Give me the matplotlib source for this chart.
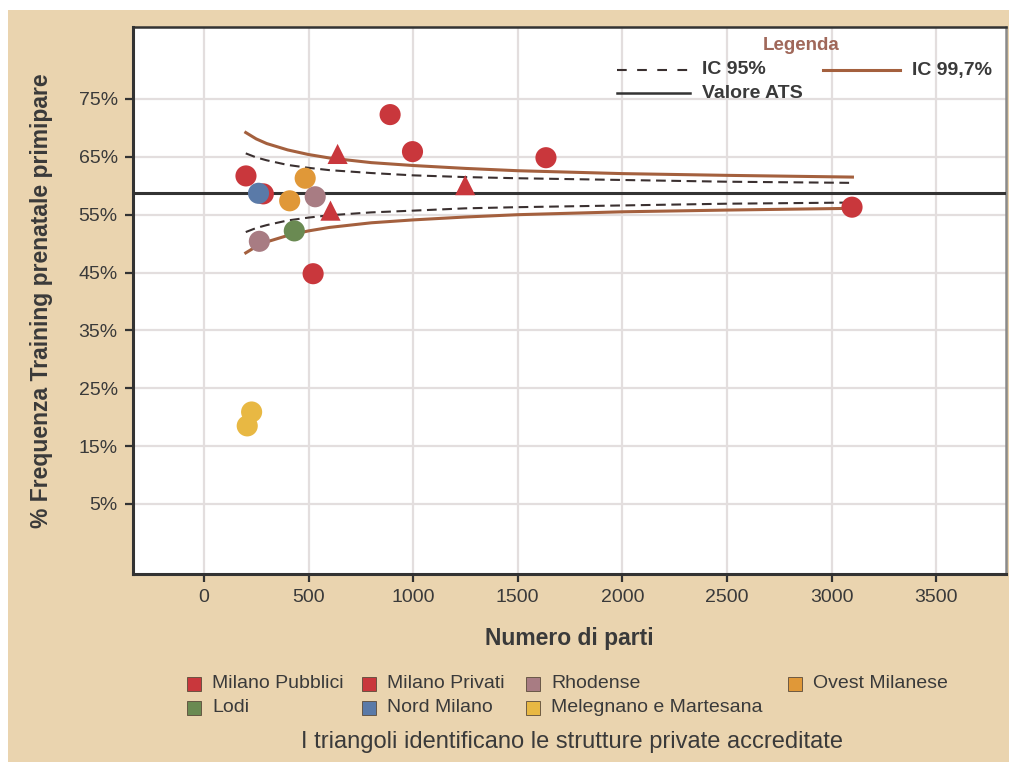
import matplotlib
matplotlib.use("Agg")
import matplotlib.pyplot as plt
from matplotlib.lines import Line2D
from matplotlib.patches import Rectangle

plt.rcParams["font.family"] = ["Liberation Sans", "DejaVu Sans"]
plt.rcParams["lines.scale_dashes"] = False

# ---- data -------------------------------------------------------------
# structures: number of births and % prenatal training (primiparae)
milano_pubblici_n = [201, 284, 522, 890, 997, 1635, 3098]
milano_pubblici_pct = [61.7, 58.6, 44.8, 72.3, 65.9, 64.85, 56.3]

milano_privati_n = [639, 1249, 605]
milano_privati_pct = [65.5, 60.1, 55.7]

rhodense_n = [265, 532]
rhodense_pct = [50.4, 58.1]

ovest_n = [484, 410]
ovest_pct = [61.3, 57.4]

lodi_n = [432]
lodi_pct = [52.2]

nord_n = [261]
nord_pct = [58.7]

melegnano_n = [228, 207]
melegnano_pct = [20.9, 18.5]

# ATS reference value
ats_value = 58.8

# funnel limits
curve_n = [200, 250, 300, 400, 500, 600, 800, 1000, 1250, 1500, 2000, 2500, 3100]
upper_997 = [69.2, 68.1, 67.3, 66.2, 65.4, 64.8, 64.0, 63.5, 63.0, 62.6, 62.1, 61.8, 61.5]
lower_997 = [48.4, 49.5, 50.3, 51.4, 52.2, 52.8, 53.6, 54.1, 54.6, 55.0, 55.5, 55.8, 56.1]
upper_95 = [65.6, 64.9, 64.4, 63.6, 63.1, 62.7, 62.2, 61.8, 61.5, 61.3, 61.0, 60.7, 60.5]
lower_95 = [52.0, 52.7, 53.2, 54.0, 54.5, 54.9, 55.4, 55.7, 56.1, 56.3, 56.6, 56.9, 57.1]

x_ticks = [0, 500, 1000, 1500, 2000, 2500, 3000, 3500]
y_ticks = [5, 15, 25, 35, 45, 55, 65, 75]

area_names = ["Milano Pubblici", "Milano Privati", "Rhodense", "Ovest Milanese",
              "Lodi", "Nord Milano", "Melegnano e Martesana"]

# ---- style ------------------------------------------------------------
RED = "#C9373C"
MAUVE = "#A87C83"
ORANGE = "#E09838"
GREEN = "#6A8A52"
BLUE = "#5A7AA8"
YELLOW = "#E8B843"
BROWN = "#A4603E"
DARK = "#333333"
TEXT = "#3A3A3A"
PANEL = "#EAD4AF"
GRID = "#E3DEDE"

area_colors = [RED, RED, MAUVE, ORANGE, GREEN, BLUE, YELLOW]

W, H = 1009, 762
fig = plt.figure(figsize=(W / 100, H / 100), dpi=100, facecolor="white")


def fx(px):
    return px / W


def fy(py):
    return 1 - py / H


fig.add_artist(Rectangle((fx(8), 0), 1 - fx(8), fy(10), transform=fig.transFigure,
                         facecolor=PANEL, edgecolor="none", zorder=-10))

ax = fig.add_axes([fx(133), fy(574), fx(1006) - fx(133), fy(27) - fy(574)])
ax.set_facecolor("white")
ax.set_xlim(-339, 3834)
ax.set_ylim(-7.1, 87.44)

ax.set_xticks(x_ticks)
ax.set_yticks(y_ticks)
ax.set_yticklabels([f"{v}%" for v in y_ticks])
ax.grid(True, color=GRID, lw=1.6, zorder=0)
ax.set_axisbelow(True)
ax.tick_params(axis="both", length=6, width=1.6, color=DARK, labelsize=14,
               labelcolor=TEXT, pad=5)

for side in ["left", "bottom", "top"]:
    ax.spines[side].set_color(DARK)
    ax.spines[side].set_linewidth(2.2)
ax.spines["top"].set_linewidth(1.8)
ax.spines["right"].set_color("#8A8A8A")
ax.spines["right"].set_linewidth(1.8)

ax.set_xlabel("Numero di parti", fontsize=16.5, fontweight="bold", color=TEXT, labelpad=15)
ax.set_ylabel("% Frequenza Training prenatale primipare", fontsize=16.5,
              fontweight="bold", color=TEXT, labelpad=18)

# funnel limits and reference line
ax.plot(curve_n, upper_997, color=BROWN, lw=2.2, zorder=3)
ax.plot(curve_n, lower_997, color=BROWN, lw=2.2, zorder=3)
ax.plot(curve_n, upper_95, color="#3A3030", lw=1.5, dashes=(7, 4), zorder=3)
ax.plot(curve_n, lower_95, color="#3A3030", lw=1.5, dashes=(7, 4), zorder=3)
ax.axhline(ats_value, color=DARK, lw=2.2, zorder=3)

# structures
CIRCLE = 15.2 ** 2
TRI = 14.5 ** 2
ax.scatter(milano_pubblici_n, milano_pubblici_pct, s=CIRCLE, color=RED, marker="o",
           edgecolors="none", zorder=4)
ax.scatter(milano_privati_n, milano_privati_pct, s=TRI, color=RED, marker="^",
           edgecolors="none", zorder=4)
ax.scatter(rhodense_n, rhodense_pct, s=CIRCLE, color=MAUVE, edgecolors="none", zorder=5)
ax.scatter(ovest_n, ovest_pct, s=CIRCLE, color=ORANGE, edgecolors="none", zorder=5)
ax.scatter(lodi_n, lodi_pct, s=CIRCLE, color=GREEN, edgecolors="none", zorder=5)
ax.scatter(nord_n, nord_pct, s=CIRCLE, color=BLUE, edgecolors="none", zorder=5)
ax.scatter(melegnano_n, melegnano_pct, s=CIRCLE, color=YELLOW, edgecolors="none", zorder=5)

# top-right legend
fig.text(fx(801), fy(46), "Legenda", color="#A0685A", fontsize=13.5, fontweight="bold",
         ha="center", va="center")
fig.add_artist(Line2D([fx(617), fx(690)], [fy(70), fy(70)], color="#3A3030", lw=1.5,
                      dashes=(7, 7.5), transform=fig.transFigure))
fig.text(fx(702), fy(70), "IC 95%", color=TEXT, fontsize=14, fontweight="bold",
         ha="left", va="center")
fig.add_artist(Line2D([fx(823), fx(900)], [fy(70), fy(70)], color=BROWN, lw=2.2,
                      transform=fig.transFigure))
fig.text(fx(912), fy(70), "IC 99,7%", color=TEXT, fontsize=14, fontweight="bold",
         ha="left", va="center")
fig.add_artist(Line2D([fx(617), fx(690)], [fy(93), fy(93)], color=DARK, lw=1.8,
                      transform=fig.transFigure))
fig.text(fx(702), fy(93), "Valore ATS", color=TEXT, fontsize=14, fontweight="bold",
         ha="left", va="center")

# bottom area legend
slots = [(194, 684), (369, 684), (533, 684), (795, 684),
         (194, 708), (369, 708), (533, 708)]
for name, color, (px, py) in zip(area_names, area_colors, slots):
    fig.add_artist(Line2D([fx(px)], [fy(py)], marker="s", markersize=10.5,
                          markerfacecolor=color, markeredgecolor="#5A4A3A",
                          markeredgewidth=0.6, linestyle="none",
                          transform=fig.transFigure))
    fig.text(fx(px + 18), fy(py), name, color=TEXT, fontsize=14, ha="left", va="center")

fig.text(fx(572), fy(742), "I triangoli identificano le strutture private accreditate",
         color=TEXT, fontsize=17, ha="center", va="center")

fig.savefig("out.png", dpi=100, facecolor=fig.get_facecolor())
